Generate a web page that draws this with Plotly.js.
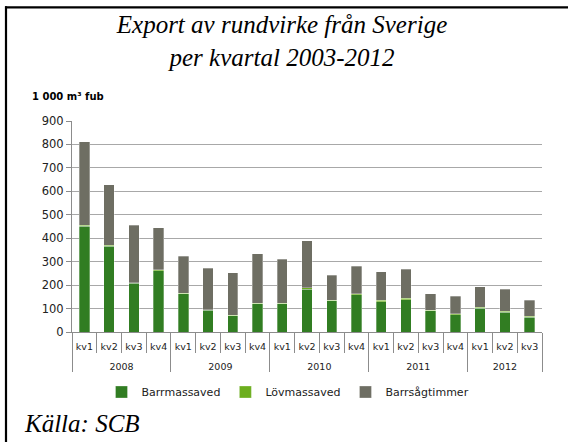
<!DOCTYPE html>
<html>
<head>
<meta charset="utf-8">
<script src="https://cdn.plot.ly/plotly-3.0.1.min.js"></script>
<style>
  html, body { margin: 0; padding: 0; background: #fff; }
  #chart { width: 568px; height: 442px; }
</style>
</head>
<body>
<div id="chart"></div>
<script>
// Data (1 000 m³ fub)
var years = ['2008','2008','2008','2008','2009','2009','2009','2009','2010','2010','2010','2010','2011','2011','2011','2011','2012','2012','2012'];
var quarters = ['kv1','kv2','kv3','kv4','kv1','kv2','kv3','kv4','kv1','kv2','kv3','kv4','kv1','kv2','kv3','kv4','kv1','kv2','kv3'];
var barrmassaved = [452, 366, 208, 262, 163, 93, 70, 121, 121, 183, 133, 159, 129, 138, 91, 74, 102, 84, 64];
var lovmassaved  = [4, 3, 3, 4, 2, 2, 2, 1, 1, 5, 2, 4, 7, 7, 2, 4, 4, 5, 3];
var barrsagtimmer = [355, 260, 245, 179, 159, 178, 181, 212, 188, 201, 108, 117, 121, 122, 70, 75, 86, 93, 68];
var seriesNames = ['Barrmassaved', 'Lövmassaved', 'Barrsågtimmer'];
var yTicks = [0, 100, 200, 300, 400, 500, 600, 700, 800, 900];

var colors = ['#317d22', '#6cae1e', '#6e6e63'];
var seriesValues = [barrmassaved, lovmassaved, barrsagtimmer];

// year labels get an empty first line so they sit lower, as in the reference
var yearLabels = years.map(function (y) { return '<br>' + y; });

var traces = seriesValues.map(function (vals, i) {
  return {
    type: 'bar',
    name: seriesNames[i],
    x: [yearLabels, quarters],
    y: vals,
    marker: { color: colors[i], line: { color: 'rgba(255,255,255,0.5)', width: 0.6 } },
    hoverinfo: 'x+y+name'
  };
});

// pixel -> paper helpers (plot area: x 72..542, y 121..332)
var L = 72, R = 26, T = 121, B = 110, W = 568, H = 442;
var pw = W - L - R, ph = H - T - B;
function px(x) { return (x - L) / pw; }
function py(y) { return (H - B - y) / ph; }

var layout = {
  width: W, height: H,
  margin: { l: L, r: R, t: T, b: B, pad: 0 },
  paper_bgcolor: '#ffffff',
  plot_bgcolor: '#ffffff',
  barmode: 'stack',
  bargap: 0.58,
  showlegend: true,
  title: {
    text: 'Export av rundvirke från Sverige<br>per kvartal 2003-2012',
    font: { family: '"Liberation Serif", "Times New Roman", serif', size: 25, style: 'italic', color: '#000' },
    x: 282 / W, xanchor: 'center', xref: 'container',
    y: 1 - 33 / H, yanchor: 'top', yref: 'container'
  },
  xaxis: {
    type: 'multicategory',
    tickangle: 0,
    showline: true, linecolor: '#8c8c8c', linewidth: 1,
    ticks: 'outside', tickson: 'boundaries', ticklen: 20, tickcolor: '#8c8c8c',
    ticklabelstandoff: 6,
    showdividers: true, dividercolor: '#8c8c8c', dividerwidth: 1,
    showgrid: false,
    tickfont: { family: '"DejaVu Sans", sans-serif', size: 9.5, color: '#222' }
  },
  yaxis: {
    range: [0, 900],
    tickvals: yTicks,
    ticktext: yTicks.map(String),
    showline: true, linecolor: '#8c8c8c', linewidth: 1,
    ticks: 'outside', ticklen: 5, tickcolor: '#8c8c8c',
    showgrid: true, gridcolor: '#a8a8a8', gridwidth: 1,
    zeroline: false,
    tickfont: { family: '"DejaVu Sans", sans-serif', size: 11.5, color: '#222' }
  },
  legend: {
    orientation: 'h',
    x: px(288), xanchor: 'center',
    y: py(392), yanchor: 'middle',
    traceorder: 'normal',
    font: { family: '"DejaVu Sans", sans-serif', size: 11, color: '#222' },
    itemwidth: 30,
    bgcolor: 'rgba(0,0,0,0)'
  },
  annotations: [
    {
      text: '<b>1 000 m³ fub</b>',
      xref: 'paper', yref: 'paper',
      x: px(30), y: py(97), xanchor: 'left', yanchor: 'middle',
      showarrow: false,
      font: { family: '"DejaVu Sans", sans-serif', size: 10, color: '#000' }
    },
    {
      text: 'Källa: SCB',
      xref: 'paper', yref: 'paper',
      x: px(22), y: py(423), xanchor: 'left', yanchor: 'middle',
      showarrow: false,
      font: { family: '"Liberation Serif", "Times New Roman", serif', size: 25, style: 'italic', color: '#000' }
    }
  ],
  shapes: [
    { type: 'line', xref: 'paper', yref: 'paper', x0: px(6), x1: px(6), y0: py(6.3), y1: py(460), line: { color: '#000', width: 2.2 } },
    { type: 'line', xref: 'paper', yref: 'paper', x0: px(5), x1: px(590), y0: py(7.3), y1: py(7.3), line: { color: '#000', width: 2.2 } }
  ]
};

Plotly.newPlot('chart', traces, layout, { displayModeBar: false, staticPlot: true });
</script>
</body>
</html>
